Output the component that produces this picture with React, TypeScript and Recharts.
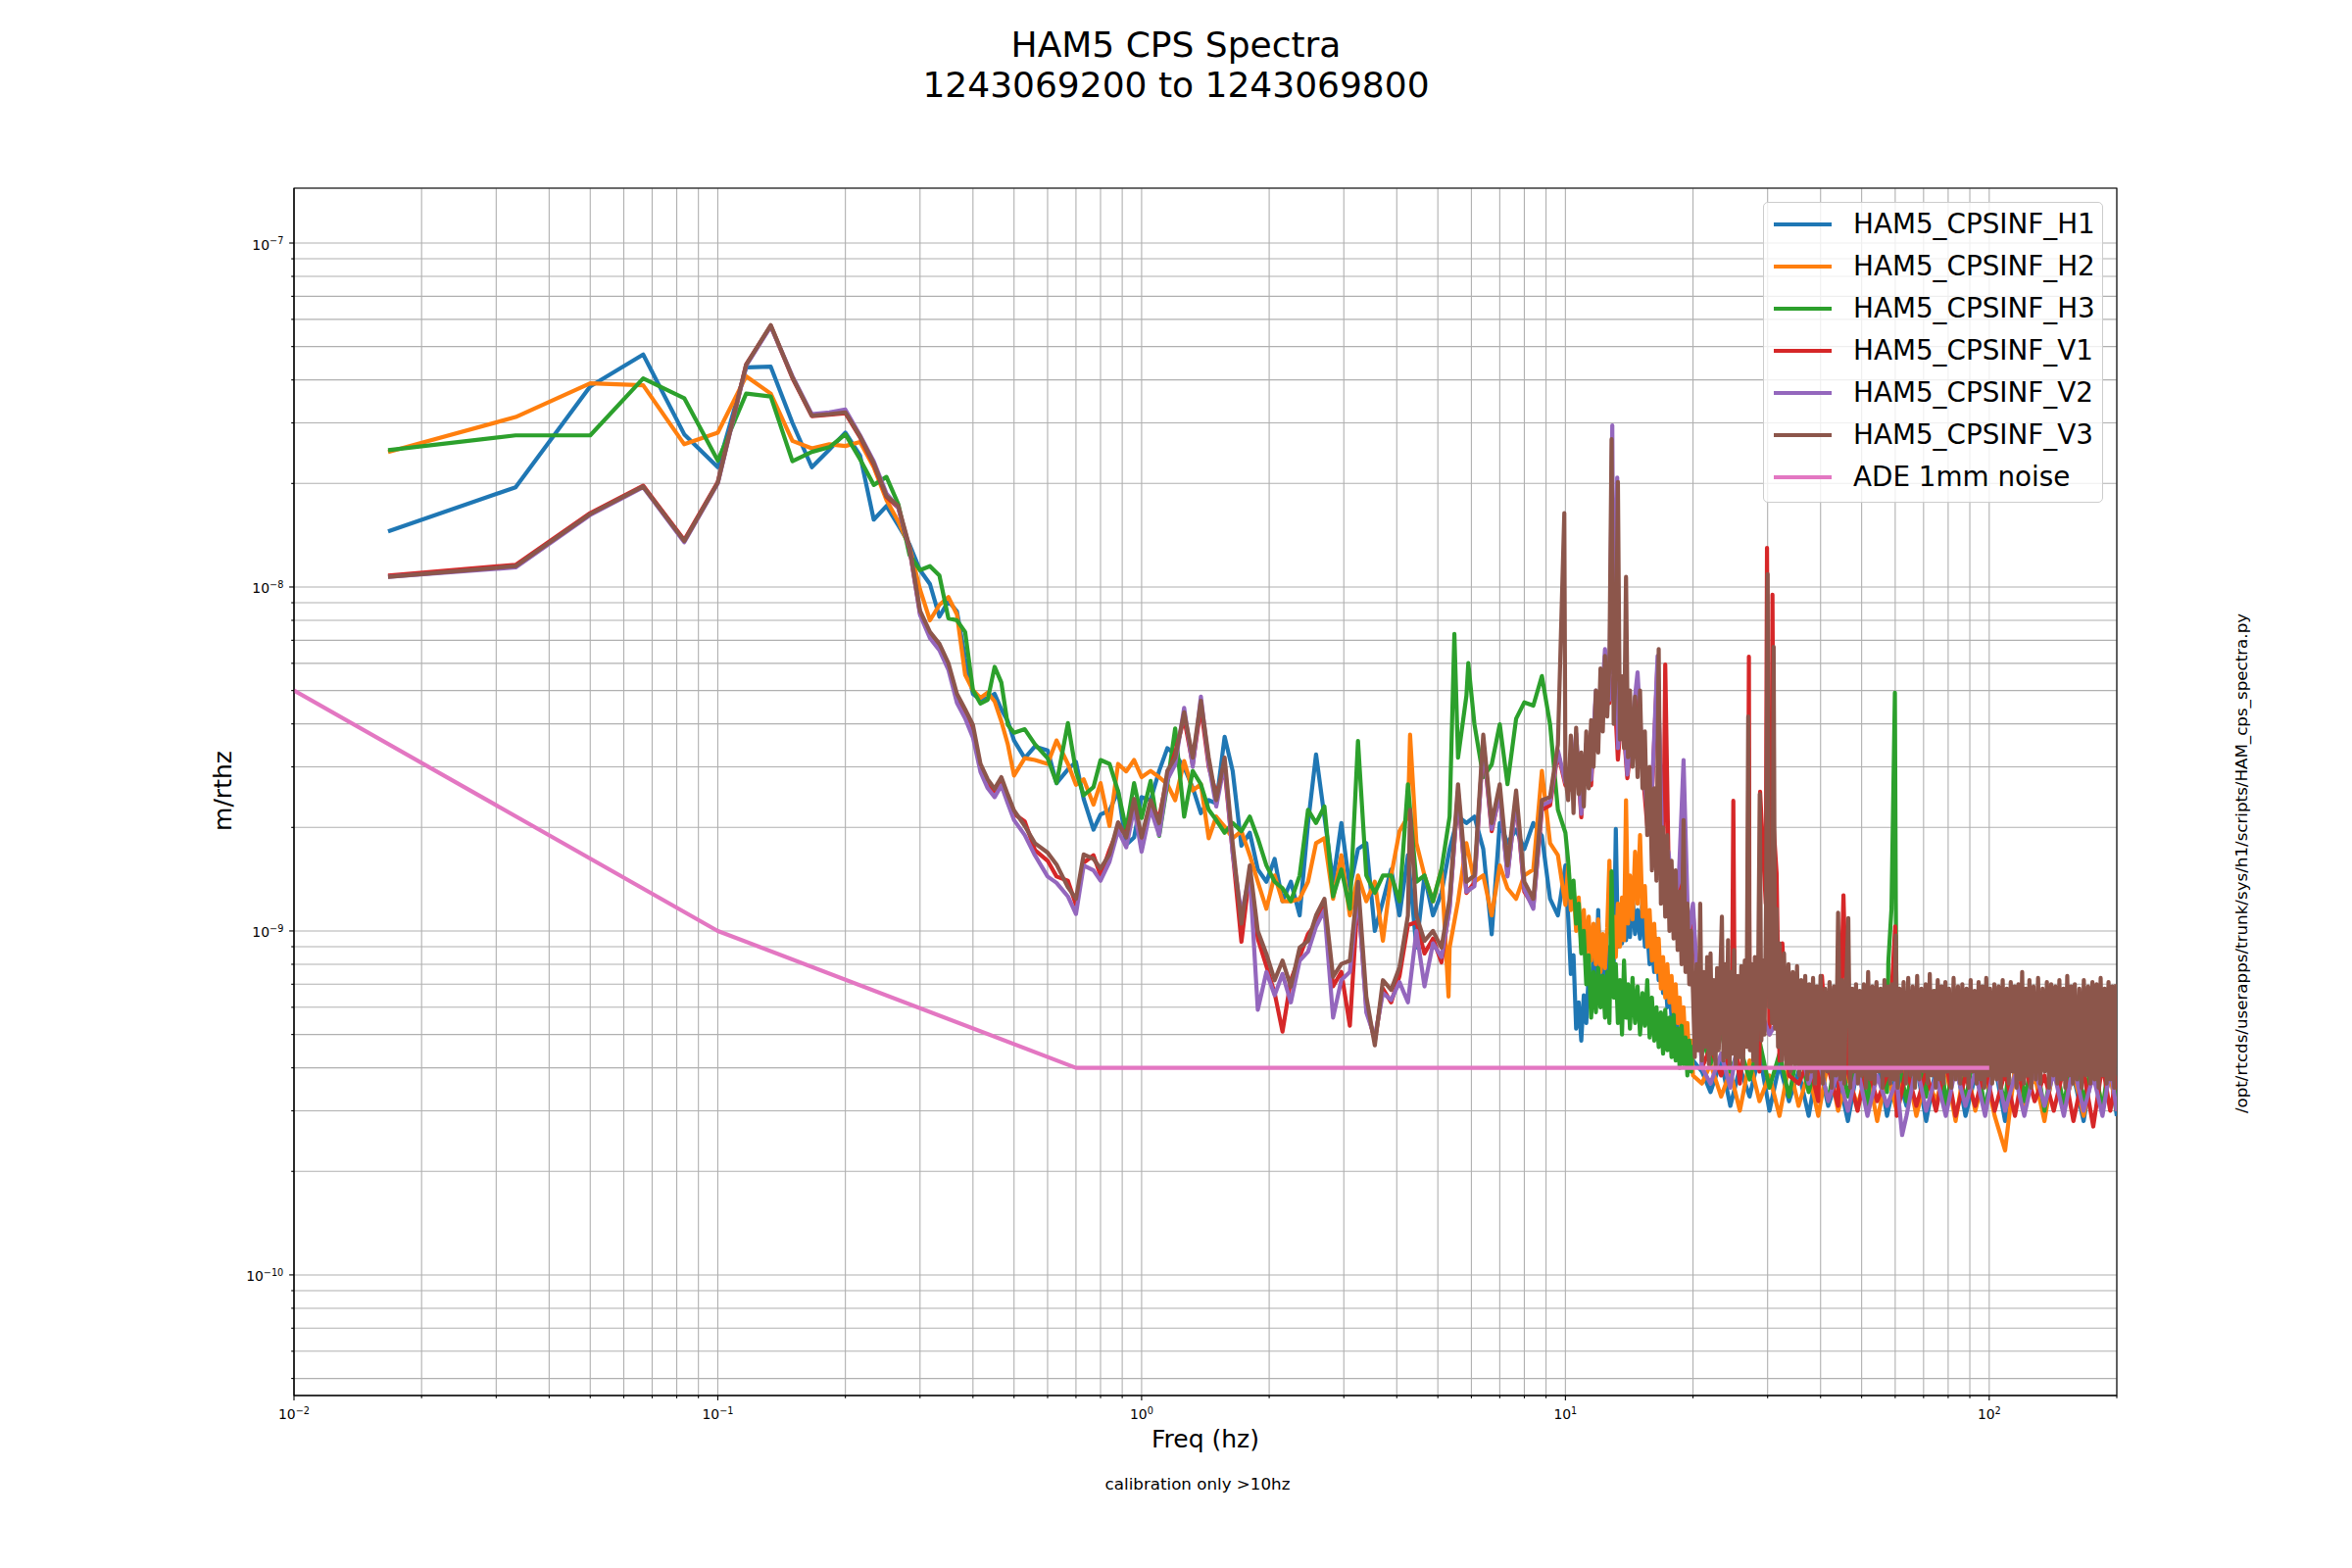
import React from "react";
import { CartesianGrid, Line, LineChart, ReferenceArea, XAxis, YAxis } from "recharts";

// amplitude values below are in units of 1e-10 m/rtHz
const UNIT = 1e-10;

const lowFreq = [
  0.01667, 0.03333, 0.05, 0.06667, 0.08333, 0.1, 0.11667, 0.13333, 0.15, 0.16667,
  0.18333, 0.2, 0.21667, 0.23333, 0.25, 0.26667, 0.28333, 0.3, 0.31667, 0.33333,
  0.35, 0.36667, 0.38333, 0.4, 0.41667, 0.43333, 0.45, 0.46667, 0.48333, 0.5,
];

const midFreq = [
  0.53, 0.56, 0.6, 0.63, 0.67, 0.7, 0.73, 0.77, 0.8, 0.84,
  0.88, 0.92, 0.96, 1.0, 1.05, 1.1, 1.15, 1.2, 1.26, 1.32,
  1.38, 1.44, 1.5, 1.57, 1.64, 1.72, 1.8, 1.88, 1.97, 2.06,
  2.15, 2.25, 2.36, 2.47, 2.58, 2.7, 2.83, 2.96, 3.1, 3.24,
  3.39, 3.55, 3.71, 3.88, 4.06, 4.25, 4.45, 4.65, 4.87, 5.1,
  5.33, 5.58, 5.84, 6.1, 6.4, 6.7, 7.0, 7.3, 7.65, 8.0,
  8.4, 8.8, 9.2, 9.6, 10.0,
];

// coarse 10-20 Hz grid (V1, V2)
const bandFreq = [
  10.3, 10.6, 10.9, 11.2, 11.5, 11.8, 12.1, 12.4, 12.7, 13.0,
  13.3, 13.6, 14.0, 14.4, 14.8, 15.2, 15.6, 16.0, 16.5, 17.0,
  17.5, 18.0, 18.5, 19.0, 19.5, 20.0,
];

// fine 10-20 Hz grid (H1, H2, H3, V3)
const fineBandFreq = [
  10.15, 10.3, 10.45, 10.6, 10.75, 10.9, 11.05, 11.2, 11.35, 11.5,
  11.65, 11.8, 11.95, 12.1, 12.25, 12.4, 12.55, 12.7, 12.85, 13.0,
  13.15, 13.3, 13.45, 13.6, 13.75, 13.9, 14.05,
  14.2, 14.4, 14.6, 14.8, 15.0, 15.2, 15.4, 15.6, 15.8, 16.0,
  16.2, 16.4, 16.6, 16.8, 17.0, 17.2, 17.4, 17.6, 17.8, 18.0,
  18.2, 18.4, 18.6, 18.8, 19.0, 19.2, 19.4, 19.6, 19.8, 20.0,
];

const highFreq = [
  21, 22, 23.3, 24.5, 25.8, 27.2, 28.7, 30.3, 32, 33.7,
  35.5, 37.5, 39.5, 41.7, 44, 46.4, 48.9, 51.6, 54.4, 57.4,
  60.5, 63.8, 67.3, 71, 74.9, 79, 83.3, 87.9, 92.7, 97.8,
  103, 109, 115, 121, 128, 135, 142, 150, 158, 167,
  176, 185, 193, 200,
];

// V3 is drawn on top, so it keeps a finer grid above 20 Hz
const v3HighFreq = [
  20.2, 20.4, 20.6, 20.8, 21.0, 21.2, 21.4, 21.6, 21.8, 22.0,
  22.2, 22.4, 22.6, 22.8, 23.0, 23.2, 23.4, 23.6, 23.8, 24.0,
  24.2, 24.4, 24.6, 24.8, 25.0,
  25.25, 25.5, 25.75, 26.0, 26.25, 26.5, 26.75, 27.0, 27.25, 27.5,
  27.75, 28.0, 28.25, 28.5, 28.75, 29.0, 29.25, 29.5, 29.75, 30.0,
  30.25, 30.5, 30.75, 31.0, 31.25, 31.5, 31.75, 32.0,
  32.4, 32.8, 33.2, 33.6, 34.0, 34.4, 34.8, 35.2, 35.6, 36.0,
  36.4, 36.8, 37.2, 37.6, 38.0, 38.4, 38.8, 39.2, 39.6, 40.0,
  40.5, 41.0, 41.5, 42.0, 42.5, 43.0, 43.5, 44.0, 44.5, 45.0,
  45.5, 46.0, 46.5, 47.0, 47.5, 48.0, 48.5, 49.0, 49.5, 50.0,
  50.6, 51.2, 51.8, 52.4, 53.0, 53.6, 54.2, 54.8, 55.4, 56.0,
  56.6, 57.2, 57.8, 58.4, 59.0, 59.6, 60.2, 60.8, 61.4, 62.0,
  62.8, 63.6, 64.4, 65.2, 66.0, 66.8, 67.6, 68.4, 69.2, 70.0,
  70.8, 71.6, 72.4, 73.2, 74.0, 74.8, 75.6, 76.4, 77.2, 78.0,
  78.8, 79.6, 80.4,
  81.4, 82.4, 83.4, 84.4, 85.4, 86.4, 87.4, 88.4, 89.4, 90.4,
  91.4, 92.4, 93.4, 94.4, 95.4, 96.4, 97.4, 98.4, 99.4, 100.4,
  101.6, 102.8, 104.0, 105.2, 106.4, 107.6, 108.8, 110.0, 111.2, 112.4,
  113.6, 114.8, 116.0, 117.2, 118.4, 119.6, 120.8, 122.0, 123.2, 124.4,
  125.6,
  127.2, 128.8, 130.4, 132.0, 133.6, 135.2, 136.8, 138.4, 140.0, 141.6,
  143.2, 144.8, 146.4, 148.0, 149.6, 151.2, 152.8, 154.4, 156.0, 157.6,
  159.2,
  161.2, 163.2, 165.2, 167.2, 169.2, 171.2, 173.2, 175.2, 177.2, 179.2,
  181.2, 183.2, 185.2, 187.2, 189.2, 191.2, 193.2, 195.2, 197.2, 199.2,
];

// HAM5_CPSINF_H1
const h1Low = [
  145, 195, 383, 474, 278, 223, 435, 437, 300, 223,
  251, 281, 241, 157, 172, 151, 133, 112, 102, 82,
  91, 85, 62, 48.9, 47.0, 47.5, 48.9, 44.1, 40.7, 35.8,
];
const h1Mid = [
  31.8, 34.4, 33.5, 26.9, 29.5, 31.0, 24.2, 19.7, 21.8, 22.4,
  25.5, 17.8, 18.7, 24.5, 24.0, 29.2, 34.0, 32.6, 29.9, 26.1,
  22.0, 24.0, 23.5, 36.7, 29.2, 17.7, 19.3, 15.1, 13.9, 16.2,
  12.2, 13.9, 11.1, 20.6, 32.6, 21.5, 13.9, 20.6, 13.3, 17.3,
  18.0, 10.0, 12.2, 15.1, 11.1, 16.6, 8.95, 14.5, 11.1, 12.9,
  17.3, 21.5, 20.6, 21.5, 17.3, 9.78, 20.6, 18.0, 19.7, 17.3,
  20.6, 18.9, 12.4, 11.1, 15.5,
];
const h1Band = [
  11, 7.5, 8.5, 5.2, 6.2, 4.8, 6.5, 5.4, 7.5, 6.0,
  8.4, 6.3, 11.5, 6.8, 8.2, 6.6, 9.0, 7.2, 9.6, 8.0,
  19.8, 9.0, 11.0, 9.2, 11.5, 9.4, 11.0,
  9.6, 12.7, 9.8, 11.5, 9.5, 12.3, 9.0, 10.0, 8.0, 9.0,
  7.6, 9.5, 7.2, 8.0, 6.6, 7.4, 6.0, 6.9, 5.6, 6.4,
  5.2, 5.6, 4.8, 5.3, 4.6, 4.9, 4.3, 4.6, 4.0, 4.2,
];
const h1High = [
  3.9, 3.4, 4.2, 3.1, 4.0, 3.3, 4.4, 3.0, 4.1, 3.2,
  3.9, 2.9, 4.2, 3.1, 3.8, 2.8, 4.0, 3.2, 4.3, 2.9,
  3.9, 3.1, 4.1, 2.8, 4.0, 3.0, 4.2, 2.9, 3.8, 3.1,
  4.1, 2.8, 3.9, 3.0, 4.3, 2.9, 4.0, 3.1, 3.8, 2.8,
  4.1, 3.0, 3.9, 2.9,
];
const h1Spikes: number[][] = [];

// HAM5_CPSINF_H2
const h2Low = [
  247, 312, 391, 386, 260, 281, 410, 365, 266, 253,
  260, 257, 264, 223, 179, 155, 131, 98.4, 80.0, 88.7,
  93.5, 83.2, 55.6, 50.1, 47.6, 49.3, 46.5, 40.7, 34.9, 28.3,
];
const h2Mid = [
  31.8, 31.4, 30.6, 35.8, 30.6, 26.6, 27.6, 23.3, 26.9, 20.2,
  30.6, 29.1, 31.4, 28.0, 29.2, 28.0, 26.7, 24.0, 31.2, 25.6,
  26.7, 18.6, 21.5, 20.1, 18.6, 19.5, 16.6, 13.9, 11.6, 14.5,
  12.2, 12.2, 12.4, 13.9, 18.0, 18.6, 12.4, 16.6, 11.1, 14.5,
  12.2, 13.9, 9.36, 14.5, 19.5, 21.5, 18.0, 14.5, 12.2, 15.1,
  8.95, 12.2, 18.0, 13.9, 14.5, 11.1, 15.5, 13.3, 12.4, 14.5,
  15.1, 29.2, 18.0, 16.6, 11.9,
];
const h2Band = [
  15.5, 11.5, 13.5, 10.0, 12.5, 9.0, 11.5, 8.6, 11.0, 8.2,
  10.5, 8.0, 10.8, 7.6, 9.8, 7.8, 10.2, 16.0, 8.5, 11.0,
  8.4, 12.0, 9.0, 12.5, 9.4, 24.0, 10.5,
  14.5, 10.8, 17.0, 12.0, 19.0, 11.0, 13.5, 9.0, 11.5, 8.2,
  10.5, 7.6, 9.5, 6.8, 8.4, 6.4, 8.0, 6.2, 7.4, 5.8,
  7.0, 5.4, 6.4, 5.0, 6.0, 4.6, 5.4, 4.2, 4.8, 3.8,
];
const h2High = [
  3.6, 4.1, 3.3, 3.9, 3.0, 4.2, 3.2, 3.8, 2.9, 4.1,
  3.1, 3.9, 2.9, 4.2, 3.0, 3.8, 3.1, 4.0, 2.8, 3.9,
  3.0, 4.1, 2.9, 3.8, 3.2, 4.0, 2.8, 4.2, 3.0, 3.9,
  2.9, 2.3, 4.0, 3.1, 3.8, 2.8, 4.1, 3.0, 3.9, 2.9,
  4.0, 3.1, 3.8, 3.0,
];
const h2Spikes = [[4.3, 37.2], [5.3, 6.45]];

// HAM5_CPSINF_H3
const h3Low = [
  250, 276, 276, 404, 354, 233, 365, 358, 232, 247,
  255, 278, 235, 198, 209, 174, 124, 112, 115, 108,
  81.1, 80.0, 74.0, 50.1, 45.8, 47.0, 58.6, 52.8, 39.7, 37.7,
];
const h3Mid = [
  38.6, 34.9, 31.8, 26.9, 40.2, 29.1, 24.8, 26.2, 31.4, 30.6,
  25.5, 19.7, 26.9, 21.3, 27.3, 18.9, 26.7, 38.8, 21.5, 29.2,
  26.7, 22.5, 21.0, 19.3, 20.6, 19.5, 21.5, 18.6, 15.5, 13.9,
  13.3, 12.2, 14.5, 22.5, 20.6, 23.0, 12.6, 15.1, 11.6, 35.7,
  14.5, 12.9, 14.5, 14.5, 12.2, 26.7, 13.9, 14.5, 12.2, 15.1,
  21.5, 31.9, 48.3, 39.9, 28.0, 30.5, 39.9, 26.7, 41.4, 46.2,
  45.2, 55.1, 39.9, 22.5, 19.3,
];
const h3Band = [
  16, 12.5, 14, 10.5, 12, 8.6, 10, 7.0, 8.5, 5.6,
  7.6, 5.8, 7.8, 6.0, 7.4, 5.6, 7.6, 5.4, 14.9, 6.4,
  8.0, 5.4, 7.2, 5.0, 8.2, 5.6, 7.0,
  5.2, 7.3, 5.4, 6.9, 5.0, 6.6, 5.3, 7.2, 4.9, 6.4,
  4.8, 6.0, 4.6, 5.8, 4.4, 5.9, 4.5, 5.6, 4.3, 5.7,
  4.2, 5.2, 4.0, 5.3, 4.1, 4.9, 3.8, 4.8, 3.9, 4.6,
];
const h3High = [
  4.9, 4.1, 5.1, 3.9, 4.6, 3.7, 4.8, 3.5, 4.4, 3.3,
  4.6, 3.4, 4.3, 3.2, 4.7, 3.3, 4.4, 3.1, 6.6, 3.4,
  4.5, 3.2, 4.6, 3.3, 6.7, 3.1, 4.4, 3.2, 4.6, 3.0,
  4.3, 3.1, 6.5, 3.2, 4.5, 3.0, 4.4, 3.1, 4.6, 3.2,
  4.3, 3.0, 4.5, 3.1,
];
const h3Spikes = [
  [5.47, 73.1], [5.9, 60.1],
  [57.8, 8.1], [58.8, 11.6], [59.9, 49.3], [60.2, 12.0],
];

// HAM5_CPSINF_V1
const v1Low = [
  108, 116, 164, 197, 137, 202, 444, 575, 405, 314,
  317, 320, 272, 227, 183, 170, 129, 84.0, 72.5, 67.0,
  59.0, 47.5, 43.0, 38.5, 29.8, 27.0, 25.2, 27.1, 24.0, 21.9,
];
const v1Mid = [
  20.8, 17.2, 16.0, 14.4, 14.0, 11.9, 15.8, 16.6, 14.5, 17.2,
  19.8, 19.2, 23.0, 18.0, 23.2, 21.4, 28.0, 33.0, 41.5, 30.5,
  44.8, 30.0, 25.0, 29.5, 17.0, 9.3, 14.8, 9.5, 7.9, 6.6,
  5.1, 7.2, 8.4, 9.8, 10.5, 11.8, 6.9, 7.6, 5.3, 12.8,
  6.0, 4.8, 6.8, 6.2, 7.4, 10.4, 10.6, 8.6, 9.5, 8.1,
  11.8, 25.0, 12.9, 13.8, 35.0, 19.5, 25.2, 14.6, 24.0, 13.0,
  11.8, 22.5, 23.2, 33.0, 26.5,
];
const v1Band = [
  25.8, 36.0, 21.4, 34.0, 26.5, 48.0, 40.0, 61.0, 46.0, 55.0,
  31.5, 44.5, 27.8, 38.0, 48.5, 29.6, 20.2, 24.5, 60.0, 13.5,
  16.5, 11.4, 13.2, 19.8, 9.1, 11.4,
];
const v1High = [
  4.0, 4.6, 3.8, 4.4, 3.6, 4.8, 3.9, 5.0, 4.2, 3.8,
  3.6, 4.2, 3.2, 4.0, 3.1, 3.9, 3.0, 4.1, 3.2, 3.8,
  2.9, 4.0, 3.1, 3.9, 3.0, 4.2, 2.9, 3.8, 3.1, 4.0,
  3.0, 3.9, 2.9, 4.1, 3.2, 3.8, 3.0, 4.0, 2.8, 3.9,
  2.7, 4.1, 3.0, 3.8,
];
const v1Spikes = [
  [17.2, 59.5], [24.7, 5.0], [24.9, 23.9], [25.1, 5.0],
  [26.9, 6.0], [27.1, 62.7], [27.3, 7.0], [28.8, 25.4],
  [29.7, 12.0], [29.9, 130], [30.1, 20.0], [30.6, 15.0], [30.8, 95], [31.0, 20.0],
  [31.5, 14.7], [32.5, 9.2], [40.3, 7.4], [45.3, 12.7], [60.0, 10.3],
];

// HAM5_CPSINF_V2
const v2Low = [
  107, 114, 162, 195, 135, 200, 440, 572, 410, 318,
  322, 328, 276, 232, 187, 170, 130, 83.0, 71.0, 65.5,
  57.5, 46.0, 41.5, 36.5, 29.0, 26.0, 24.5, 26.5, 23.5, 21.0,
];
const v2Mid = [
  19.0, 16.6, 14.4, 13.8, 12.6, 11.2, 15.5, 15.0, 14.0, 15.9,
  19.6, 17.5, 22.8, 17.0, 22.6, 19.0, 27.5, 30.5, 44.5, 30.0,
  48.0, 30.5, 23.0, 30.8, 16.8, 11.2, 14.6, 5.9, 7.6, 6.5,
  7.5, 6.2, 8.2, 8.7, 10.3, 11.5, 5.6, 7.2, 7.6, 12.9,
  5.8, 4.9, 6.6, 6.3, 7.1, 6.2, 10.0, 6.9, 9.2, 8.4,
  11.6, 25.5, 13.0, 13.5, 35.5, 19.8, 25.0, 14.4, 24.2, 13.2,
  11.6, 23.2, 23.8, 33.5, 27.0,
];
const v2Band = [
  26.5, 37.5, 21.9, 35.0, 27.5, 50.0, 41.0, 66.0, 47.0, 56.0,
  34.0, 46.0, 28.5, 41.0, 56.5, 31.5, 22.0, 25.5, 63.0, 13.8,
  17.0, 12.4, 13.8, 31.4, 9.8, 12.0,
];
const v2High = [
  4.0, 3.6, 4.4, 3.5, 5.2, 4.6, 6.0, 5.0, 5.6, 4.4,
  4.9, 3.6, 4.3, 3.2, 3.9, 3.0, 4.0, 2.9, 3.8, 3.1,
  3.7, 2.9, 4.1, 3.0, 3.8, 2.9, 4.0, 3.1, 3.9, 2.9,
  4.2, 3.0, 3.8, 2.9, 4.0, 3.1, 3.9, 2.9, 4.1, 3.0,
  3.8, 2.9, 4.0, 3.0,
];
const v2Spikes = [[12.9, 295], [13.25, 208], [62.3, 2.55]];

// HAM5_CPSINF_V3
const v3Low = [
  107, 115, 163, 196, 136, 201, 443, 577, 407, 315,
  318, 322, 274, 229, 184, 172, 131, 85.3, 74.0, 68.4,
  60.1, 48.9, 44.1, 39.7, 30.6, 27.6, 25.9, 28.0, 24.9, 22.4,
];
const v3Mid = [
  20.2, 18.0, 16.9, 15.6, 13.4, 12.4, 16.7, 16.2, 15.2, 16.7,
  20.7, 18.7, 24.2, 18.7, 24.0, 20.6, 29.2, 31.9, 43.2, 31.9,
  46.7, 31.9, 24.0, 31.9, 18.0, 10.5, 15.5, 10.0, 8.57, 7.19,
  8.2, 6.89, 8.95, 9.36, 11.1, 12.4, 7.36, 8.02, 8.2, 13.9,
  6.45, 4.65, 7.19, 6.74, 7.85, 11.1, 11.1, 9.36, 10.0, 8.95,
  12.4, 26.7, 13.9, 14.5, 37.2, 20.6, 26.7, 15.5, 25.6, 13.9,
  12.4, 24.0, 24.5, 34.8, 28.0,
];
const v3Band = [
  24, 37, 22, 39, 25, 33, 23, 38, 26, 41,
  30, 50, 33, 58, 38, 63, 42, 60, 269, 40,
  58, 202, 36, 55, 34, 107, 32,
  50, 30, 48, 28, 50, 26, 38, 19, 30, 15,
  26, 14, 66, 12, 20, 11, 19, 10, 16, 9.5,
  15, 8.8, 13, 8.0, 21, 7.6, 12, 7.0, 10, 6.6,
];
const v3High = [
  4.3, 8.0, 4.5, 12.0, 4.2, 7.6, 4.6, 8.4, 4.1, 8.6,
  4.4, 7.2, 4.0, 7.8, 4.5, 7.4, 11.0, 4.2, 8.0, 4.3,
  9.4, 4.1, 7.6, 4.4, 8.8,
  4.0, 7.4, 4.3, 7.9, 4.1, 8.2, 4.6, 42, 4.5, 8.0,
  4.2, 8.4, 4.0, 7.6, 25, 4.8, 8.2, 5.0, 12.0, 109,
  6.0, 10.0, 5.4, 67, 5.2, 11.6, 4.6, 9.2,
  4.2, 8.6, 4.0, 8.0, 3.9, 7.6, 4.1, 7.9, 3.8, 7.2,
  4.0, 7.4, 3.7, 7.0, 3.9, 7.3, 3.6, 6.9, 4.0, 7.4,
  3.6, 6.8, 3.9, 7.1, 3.5, 6.9, 3.8, 11.3, 3.7, 7.2,
  3.6, 7.0, 10.9, 3.5, 6.8, 3.9, 7.0, 3.6, 6.7, 3.8,
  7.0, 3.5, 7.6, 3.7, 6.9, 3.6, 7.1, 3.9, 6.8, 3.5,
  7.2, 3.8, 6.9, 3.6, 7.0, 3.7, 9.7, 3.5, 6.8, 3.9,
  7.1, 3.6, 7.3, 3.8, 6.9, 3.5, 7.4, 3.7, 6.8, 3.9,
  7.0, 3.6, 7.5, 3.8, 6.7, 3.5, 7.2, 3.7, 6.9, 3.6,
  7.1, 3.9, 6.8,
  3.5, 7.3, 3.7, 6.9, 3.6, 7.0, 3.8, 6.8, 3.5, 7.2,
  3.9, 6.7, 3.6, 7.1, 3.7, 6.9, 3.5, 7.3, 3.8, 6.8,
  3.6, 7.0, 3.7, 6.9, 3.5, 7.2, 3.8, 6.8, 3.6, 7.1,
  3.9, 6.9, 3.5, 7.0, 3.7, 7.6, 3.6, 6.8, 3.8, 7.2,
  3.5,
  6.9, 3.7, 7.3, 3.6, 6.8, 3.9, 7.1, 3.5, 7.0, 3.8,
  6.9, 3.6, 7.2, 3.7, 6.8, 3.5, 7.4, 3.8, 6.9, 3.6,
  7.0,
  3.7, 6.8, 3.5, 7.2, 3.8, 6.9, 3.6, 7.1, 3.7, 7.0,
  3.5, 7.3, 3.8, 6.8, 3.6, 7.1, 3.7, 6.9, 3.5, 7.0,
];
const v3Spikes = [[4.3, 22.5], [9.94, 164]];

// ADE 1mm noise
const adeFreq = [0.01, 0.1, 0.7, 100];
const adeAsd = [50, 10, 4, 4];

const xTicks = [
  0.01, 0.02, 0.03, 0.04, 0.05, 0.06, 0.07, 0.08, 0.09,
  0.1, 0.2, 0.3, 0.4, 0.5, 0.6, 0.7, 0.8, 0.9,
  1, 2, 3, 4, 5, 6, 7, 8, 9,
  10, 20, 30, 40, 50, 60, 70, 80, 90,
  100, 200,
];
const yTicks = [
  5e-11, 6e-11, 7e-11, 8e-11, 9e-11,
  1e-10, 2e-10, 3e-10, 4e-10, 5e-10, 6e-10, 7e-10, 8e-10, 9e-10,
  1e-9, 2e-9, 3e-9, 4e-9, 5e-9, 6e-9, 7e-9, 8e-9, 9e-9,
  1e-8, 2e-8, 3e-8, 4e-8, 5e-8, 6e-8, 7e-8, 8e-8, 9e-8,
  1e-7,
];

const X_DOMAIN = [0.01, 200];
const Y_DOMAIN = [4.46e-11, 1.444e-7];
const FONT = "'DejaVu Sans', sans-serif";

type Pt = { f: number; v: number };

function build(parts: [number[], number[]][], spikes: number[][]): Pt[] {
  const pts: Pt[] = [];
  parts.forEach(([fs, vs]) => {
    const n = Math.min(fs.length, vs.length);
    for (let i = 0; i < n; i++) pts.push({ f: fs[i], v: vs[i] * UNIT });
  });
  spikes.forEach(([f, v]) => pts.push({ f, v: v * UNIT }));
  return pts.sort((a, b) => a.f - b.f);
}

const series = [
  { name: "HAM5_CPSINF_H1", color: "#1f77b4", data: build([[lowFreq, h1Low], [midFreq, h1Mid], [fineBandFreq, h1Band], [highFreq, h1High]], h1Spikes) },
  { name: "HAM5_CPSINF_H2", color: "#ff7f0e", data: build([[lowFreq, h2Low], [midFreq, h2Mid], [fineBandFreq, h2Band], [highFreq, h2High]], h2Spikes) },
  { name: "HAM5_CPSINF_H3", color: "#2ca02c", data: build([[lowFreq, h3Low], [midFreq, h3Mid], [fineBandFreq, h3Band], [highFreq, h3High]], h3Spikes) },
  { name: "HAM5_CPSINF_V1", color: "#d62728", data: build([[lowFreq, v1Low], [midFreq, v1Mid], [bandFreq, v1Band], [highFreq, v1High]], v1Spikes) },
  { name: "HAM5_CPSINF_V2", color: "#9467bd", data: build([[lowFreq, v2Low], [midFreq, v2Mid], [bandFreq, v2Band], [highFreq, v2High]], v2Spikes) },
  { name: "HAM5_CPSINF_V3", color: "#8c564b", data: build([[lowFreq, v3Low], [midFreq, v3Mid], [fineBandFreq, v3Band], [v3HighFreq, v3High]], v3Spikes) },
  { name: "ADE 1mm noise", color: "#e377c2", data: build([[adeFreq, adeAsd]], []) },
];

function decadeOf(v: number) {
  const l = Math.log10(v);
  const e = Math.round(l);
  return Math.abs(l - e) < 1e-6 ? e : null;
}

function Pow({ exp }: { exp: number }) {
  const sup = exp < 0 ? `\u2212${-exp}` : `${exp}`;
  return (
    <>
      <tspan fontSize={13.9}>10</tspan>
      <tspan fontSize={9.7} dy={-5.5}>{sup}</tspan>
    </>
  );
}

const XTick = (props: any) => {
  const { x, y, payload } = props;
  const exp = decadeOf(payload.value);
  return (
    <g>
      <line x1={x} x2={x} y1={y} y2={y + (exp !== null ? 4.9 : 2.8)} stroke="#000" strokeWidth={1.1} />
      {exp !== null && (
        <text x={x} y={y + 24} textAnchor="middle" fontFamily={FONT} fill="#000">
          <Pow exp={exp} />
        </text>
      )}
    </g>
  );
};

const YTick = (props: any) => {
  const { x, y, payload } = props;
  const exp = decadeOf(payload.value);
  return (
    <g>
      <line x1={x - (exp !== null ? 4.9 : 2.8)} x2={x} y1={y} y2={y} stroke="#000" strokeWidth={1.1} />
      {exp !== null && (
        <text x={x - 10.7} y={y + 6.5} textAnchor="end" fontFamily={FONT} fill="#000">
          <Pow exp={exp} />
        </text>
      )}
    </g>
  );
};

function LegendBox() {
  return (
    <div
      style={{
        position: "absolute",
        left: 1799,
        top: 206,
        width: 345,
        paddingBottom: 4,
        border: "1px solid #cccccc",
        borderRadius: 5,
        background: "rgba(255,255,255,0.8)",
        fontFamily: FONT,
      }}
    >
      {series.map((s) => (
        <div key={s.name} style={{ display: "flex", alignItems: "center", height: 43 }}>
          <div style={{ marginLeft: 10, width: 59, height: 4, background: s.color }} />
          <div style={{ marginLeft: 22, fontSize: 27.8, lineHeight: 1, color: "#000", whiteSpace: "nowrap" }}>{s.name}</div>
        </div>
      ))}
    </div>
  );
}

export default function App() {
  return (
    <div style={{ position: "relative", width: 2400, height: 1600, background: "#fff" }}>
      <style>{"body{margin:0;background:#fff}"}</style>
      <LineChart width={2400} height={1600} margin={{ top: 192, right: 240, bottom: 116, left: 220 }}>
        <CartesianGrid stroke="#b0b0b0" strokeWidth={1.1} />
        <XAxis
          dataKey="f"
          type="number"
          scale="log"
          domain={X_DOMAIN}
          allowDataOverflow
          ticks={xTicks}
          interval={0}
          tickSize={0}
          tickMargin={0}
          tickLine={false}
          axisLine={{ stroke: "#000", strokeWidth: 1.1 }}
          tick={<XTick />}
          height={60}
        />
        <YAxis
          dataKey="v"
          type="number"
          scale="log"
          domain={Y_DOMAIN}
          allowDataOverflow
          ticks={yTicks}
          interval={0}
          tickSize={0}
          tickMargin={0}
          tickLine={false}
          axisLine={{ stroke: "#000", strokeWidth: 1.1 }}
          tick={<YTick />}
          width={80}
        />
        {series.map((s) => (
          <Line
            key={s.name}
            name={s.name}
            data={s.data}
            dataKey="v"
            type="linear"
            stroke={s.color}
            strokeWidth={4.2}
            strokeLinejoin="round"
            dot={false}
            activeDot={false}
            isAnimationActive={false}
          />
        ))}
        <ReferenceArea
          x1={X_DOMAIN[0]}
          x2={X_DOMAIN[1]}
          y1={Y_DOMAIN[0]}
          y2={Y_DOMAIN[1]}
          fill="none"
          stroke="#000"
          strokeWidth={1.1}
          ifOverflow="visible"
        />
      </LineChart>
      <svg width={2400} height={1600} style={{ position: "absolute", left: 0, top: 0, pointerEvents: "none" }}>
        <g fontFamily={FONT} fill="#000">
          <text x={1200} y={58} fontSize={36} textAnchor="middle">HAM5 CPS Spectra</text>
          <text x={1200} y={99} fontSize={36} textAnchor="middle">1243069200 to 1243069800</text>
          <text x={1230} y={1477} fontSize={25} textAnchor="middle">Freq (hz)</text>
          <text transform="translate(236,807) rotate(-90)" fontSize={25} textAnchor="middle">m/rthz</text>
          <text x={1222} y={1520} fontSize={16.7} textAnchor="middle">calibration only &gt;10hz</text>
          <text transform="translate(2293,881) rotate(-90)" fontSize={16.7} textAnchor="middle">
            /opt/rtcds/userapps/trunk/sys/h1/scripts/HAM_cps_spectra.py
          </text>
        </g>
      </svg>
      <LegendBox />
    </div>
  );
}
